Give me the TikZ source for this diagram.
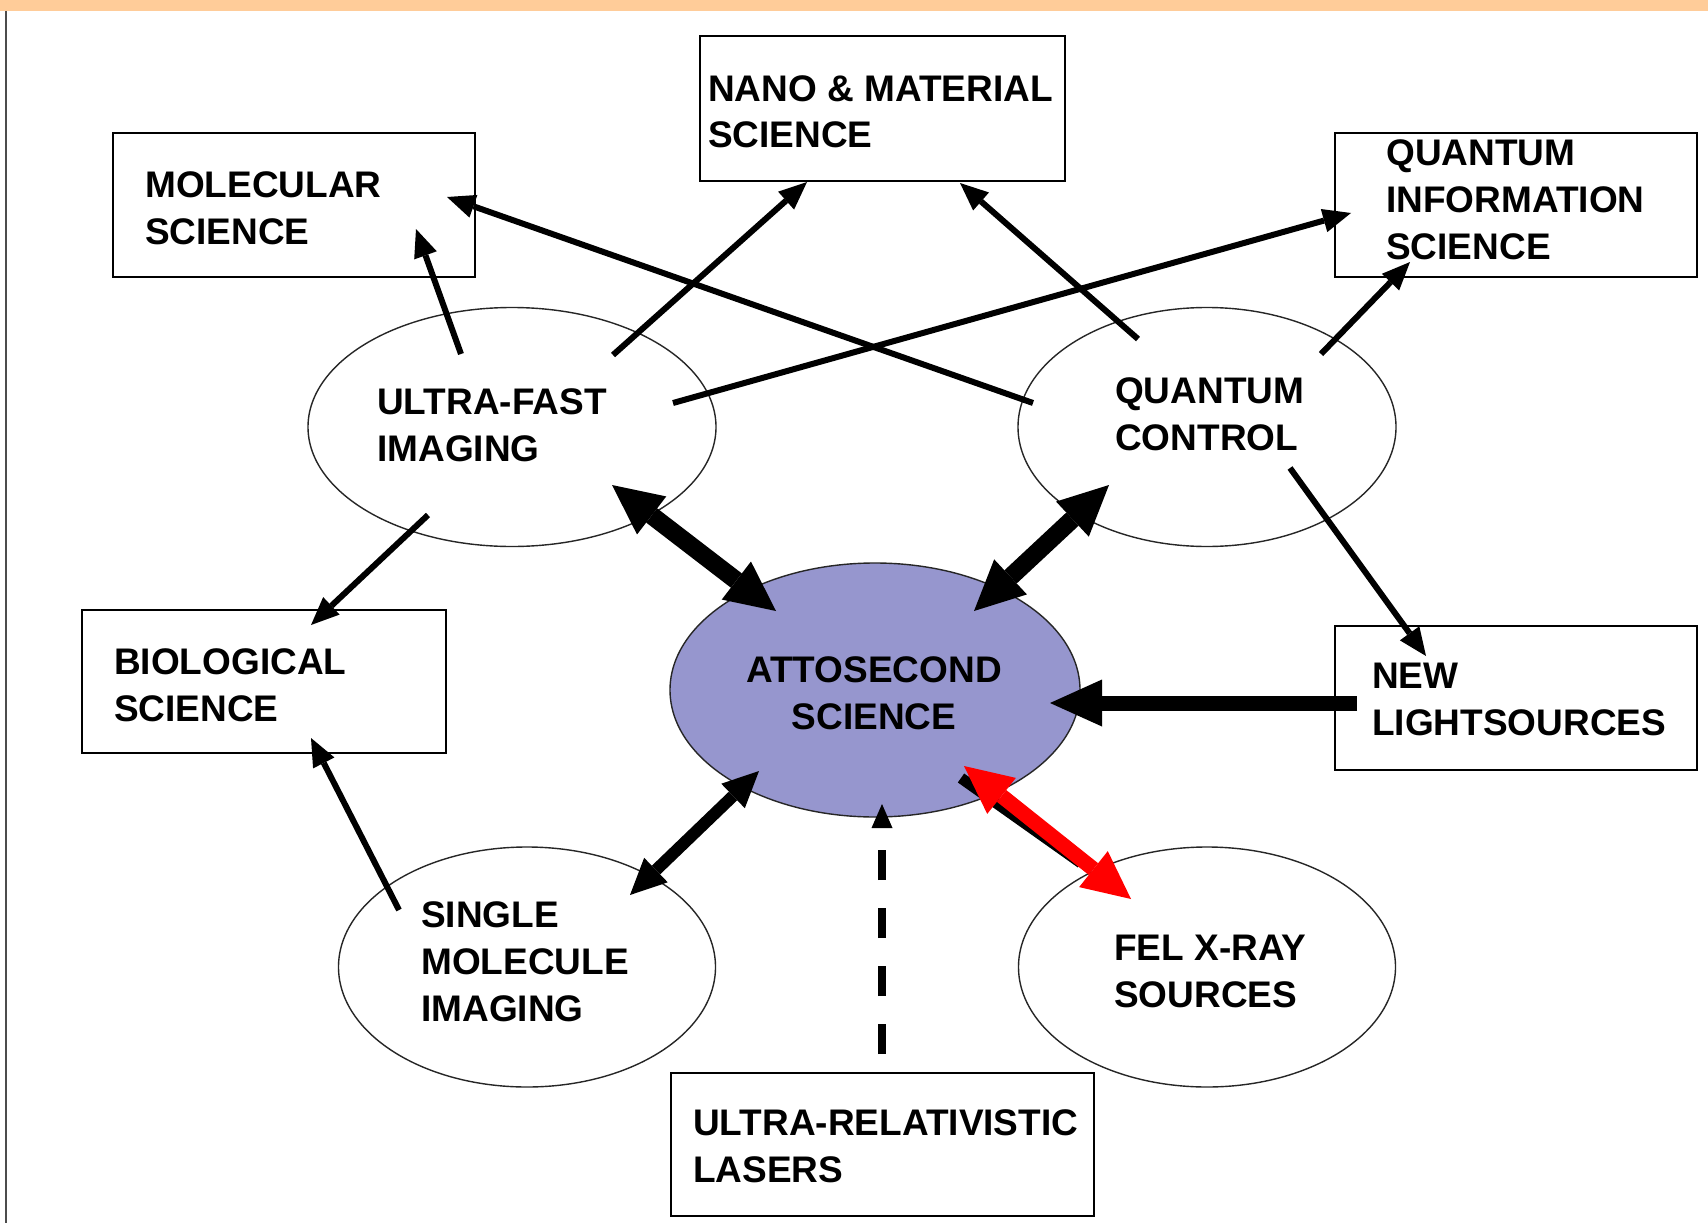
\documentclass[tikz,border=0pt]{standalone}
\usepackage{fontspec}
\setmainfont{Liberation Sans}
\usetikzlibrary{arrows.meta,shapes.geometric,calc}
\definecolor{barorange}{RGB}{255,204,153}
\definecolor{attofill}{RGB}{150,150,206}
\definecolor{arrred}{RGB}{255,0,0}
\newcommand\TwoL[2]{\vtop{\hbox{#1}\hbox{#2}}}
\newcommand\ThreeL[3]{\vtop{\hbox{#1}\hbox{#2}\hbox{#3}}}
\newcommand\CTwo[2]{\vtop{\halign{\hfil##\hfil\cr#1\cr#2\cr}}}
\begin{document}
\begin{tikzpicture}[x=1pt,y=-1pt,
  box/.style={draw=black, line width=2pt, inner sep=0pt, fill=white},
  ell/.style={ellipse, draw=black!85, line width=1.4pt, inner sep=0pt},
  lbl/.style={font=\bfseries\fontsize{37}{47}\selectfont, inner sep=0pt, anchor=base west},
  arrS/.style={line width=6pt, -{Triangle[length=28pt,width=24pt,line width=0pt]}},
  arrL/.style={line width=18pt, {Triangle[length=50pt,width=48pt,line width=0pt]}-{Triangle[length=50pt,width=48pt,line width=0pt]}},
  arrM/.style={line width=12pt, {Triangle[length=36pt,width=34pt,line width=0pt]}-{Triangle[length=36pt,width=34pt,line width=0pt]}},
  arrR/.style={line width=15pt, {Triangle[length=48pt,width=46pt,line width=0pt]}-{Triangle[length=48pt,width=46pt,line width=0pt]}},
  arrN/.style={line width=15pt, -{Triangle[length=52pt,width=47pt,line width=0pt]}},
  arrD/.style={line width=8pt, dash pattern=on 30pt off 28pt, -{Triangle[length=24pt,width=21pt,line width=0pt]}}
]
\useasboundingbox (0,0) rectangle (1708,1223);
\fill[white] (0,0) rectangle (1708,1223);
% top bar and left rule
\fill[barorange] (0,0) rectangle (1708,11);
\draw[line width=2pt, black!70] (6,11) -- (6,1223);

% boxes
\node[box, minimum width=362pt, minimum height=144pt] (mol) at (294,205) {};
\node[box, minimum width=365pt, minimum height=145pt] (nano) at (882.5,108.5) {};
\node[box, minimum width=362pt, minimum height=144pt] (qi) at (1516,205) {};
\node[box, minimum width=364pt, minimum height=143pt] (bio) at (264,681.5) {};
\node[box, minimum width=362pt, minimum height=144pt] (nl) at (1516,698) {};
\node[box, minimum width=423pt, minimum height=143pt] (url) at (882.5,1144.5) {};

% ellipses
\node[ell, minimum width=408pt, minimum height=239pt] (uf) at (512,427) {};
\node[ell, minimum width=378pt, minimum height=239pt] (qc) at (1207,427) {};
\node[ell, fill=attofill, minimum width=410pt, minimum height=254pt] (atto) at (875,690) {};
\node[ell, minimum width=377pt, minimum height=240pt] (sm) at (527,967) {};
\node[ell, minimum width=377pt, minimum height=240pt] (fel) at (1207,967) {};

% texts
\node[lbl] (tmol) at (145,197) {\TwoL{MOLECULAR}{SCIENCE}};
\node[lbl] (tnano) at (708,101) {\TwoL{NANO \& MATERIAL}{SCIENCE}};
\node[lbl] (tqi) at (1386,165) {\ThreeL{QUANTUM}{INFORMATION}{SCIENCE}};
\node[lbl] (tuf) at (377,414) {\TwoL{ULTRA-FAST}{IMAGING}};
\node[lbl] (tqc) at (1115,403) {\TwoL{QUANTUM}{CONTROL}};
\node[lbl, anchor=base] (tatto) at (874,682) {\CTwo{ATTOSECOND}{SCIENCE}};
\node[lbl] (tbio) at (114,674) {\TwoL{BIOLOGICAL}{SCIENCE}};
\node[lbl] (tnl) at (1372,688) {\TwoL{NEW}{LIGHTSOURCES}};
\node[lbl] (tsm) at (421,927) {\ThreeL{SINGLE}{MOLECULE}{IMAGING}};
\node[lbl] (tfel) at (1114,960) {\TwoL{FEL X-RAY}{SOURCES}};
\node[lbl] (turl) at (693,1135) {\TwoL{ULTRA-RELATIVISTIC}{LASERS}};

% connector end points
\coordinate (ufMol) at (461,354);   \coordinate (molUf) at (416,229);
\coordinate (ufNano) at (613,355);  \coordinate (nanoUf) at (807,182);
\coordinate (ufQi) at (673,403);    \coordinate (qiUf) at (1351,213);
\coordinate (qcMol) at (1033,403);  \coordinate (molQc) at (447,197);
\coordinate (qcNano) at (1138,339); \coordinate (nanoQc) at (960,183);
\coordinate (qcQi) at (1321,354);   \coordinate (qiQc) at (1410,262);
\coordinate (ufBio) at (428,515);   \coordinate (bioUf) at (311,625);
\coordinate (smBio) at (399,910);   \coordinate (bioSm) at (311,738);
\coordinate (qcNl) at (1290,468);   \coordinate (nlQc) at (1426,656);
\coordinate (nlAtto) at (1357,703); \coordinate (attoNl) at (1050,703);
\coordinate (ufAtto) at (612,485);  \coordinate (attoUf) at (776,611);
\coordinate (qcAtto) at (1109,485); \coordinate (attoQc) at (974,611);
\coordinate (smAtto) at (630,895);  \coordinate (attoSm) at (759,771);
\coordinate (felAtto) at (1131,899);\coordinate (attoFel) at (964,766);
\coordinate (urlAtto) at (882,1054);\coordinate (attoUrl) at (882,804);

% thin arrows
\draw[arrS] (ufMol) -- (molUf);
\draw[arrS] (ufNano) -- (nanoUf);
\draw[arrS] (ufQi) -- (qiUf);
\draw[arrS] (qcMol) -- (molQc);
\draw[arrS] (qcNano) -- (nanoQc);
\draw[arrS] (qcQi) -- (qiQc);
\draw[arrS] (ufBio) -- (bioUf);
\draw[arrS] (smBio) -- (bioSm);
\draw[arrS] (qcNl) -- (nlQc);

% heavy arrows into attosecond science
\draw[arrN] (nlAtto) -- (attoNl);
\draw[arrL] (ufAtto) -- (attoUf);
\draw[arrL] (qcAtto) -- (attoQc);
\draw[arrM] (smAtto) -- (attoSm);
\draw[line width=11pt, black] ($(attoFel)+(-3,12)$) -- ($(felAtto)+(-50,-36)$);
\draw[arrR, arrred] (felAtto) -- (attoFel);
\draw[arrD] (urlAtto) -- (attoUrl);
\end{tikzpicture}
\end{document}
